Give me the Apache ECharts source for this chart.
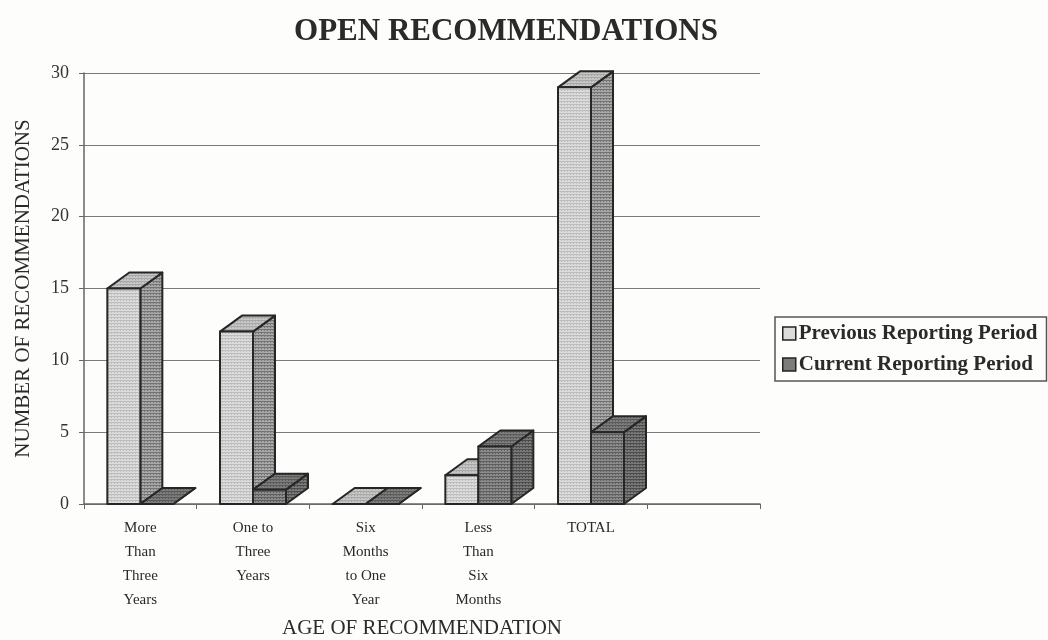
<!DOCTYPE html>
<html>
<head>
<meta charset="utf-8">
<style>
  html, body { margin: 0; padding: 0; background: #fdfdfb; }
  #chart { width: 1048px; height: 640px; }
</style>
<script src="https://cdn.jsdelivr.net/npm/echarts@6/dist/echarts.min.js"></script>
</head>
<body>
<div id="chart"></div>
<script>
const categories = ['More\nThan\nThree\nYears', 'One to\nThree\nYears', 'Six\nMonths\nto One\nYear', 'Less\nThan\nSix\nMonths', 'TOTAL', ''];
const previousPeriod = [15, 12, 0, 2, 29, null];
const currentPeriod = [0, 1, 0, 4, 5, null];

const FONT = '"Liberation Serif", serif';

// halftone look of the scan: two tones laid out as a small repeating dot grid
function dots(base, dot) {
  const c = document.createElement('canvas');
  c.width = 3;
  c.height = 3;
  const g = c.getContext('2d');
  g.fillStyle = base;
  g.fillRect(0, 0, 3, 3);
  g.fillStyle = dot;
  g.fillRect(0, 0, 1, 1);
  g.fillRect(0, 2, 3, 1);
  return { image: c, repeat: 'repeat' };
}

const prevFaces = { front: dots('#dcdcdc', '#bdbdbd'), top: dots('#c6c6c6', '#a8a8a8'), side: dots('#a8a8a8', '#747474') };
const currFaces = { front: dots('#8c8c8c', '#5e5e5e'), top: dots('#7c7c7c', '#5a5a5a'), side: dots('#787878', '#4c4c4c') };

const makeBox = (faces, side) => (params, api) => {
  const v = api.value(1);
  if (v == null || isNaN(v)) return;
  const top = api.coord([api.value(0), v]);
  const base = api.coord([api.value(0), 0]);
  const w = 33, dx = 22, dy = 16;
  const x0 = side < 0 ? top[0] - w : top[0];
  const x1 = x0 + w;
  const yt = top[1], yb = base[1];
  const line = { stroke: '#262626', lineWidth: 2, lineJoin: 'round' };
  const poly = (points, fill) => ({
    type: 'polygon',
    shape: { points },
    style: Object.assign({ fill }, line)
  });
  return {
    type: 'group',
    children: [
      poly([[x1, yb], [x1 + dx, yb - dy], [x1 + dx, yt - dy], [x1, yt]], faces.side),
      poly([[x0, yt], [x0 + dx, yt - dy], [x1 + dx, yt - dy], [x1, yt]], faces.top),
      poly([[x0, yb], [x1, yb], [x1, yt], [x0, yt]], faces.front)
    ]
  };
};

const chart = echarts.init(document.getElementById('chart'), null, { renderer: 'canvas' });
chart.setOption({
  animation: false,
  backgroundColor: '#fdfdfb',
  title: {
    text: 'OPEN RECOMMENDATIONS',
    left: 501,
    top: 11,
    textAlign: 'center',
    textStyle: { fontFamily: FONT, fontSize: 31, fontWeight: 'bold', color: '#2a2a2a' }
  },
  legend: {
    orient: 'vertical',
    left: 775,
    top: 317,
    padding: [6, 9, 6, 7],
    itemGap: 10,
    itemWidth: 13,
    itemHeight: 13,
    borderColor: '#555',
    borderWidth: 1.5,
    data: [
      { name: 'Previous Reporting Period', icon: 'rect', itemStyle: { color: '#dcdcdc', borderColor: '#222', borderWidth: 1.5 } },
      { name: 'Current Reporting Period', icon: 'rect', itemStyle: { color: '#7c7c7c', borderColor: '#222', borderWidth: 1.5 } }
    ],
    textStyle: { fontFamily: FONT, fontSize: 21, fontWeight: 'bold', color: '#2a2a2a', padding: [0, 0, 0, -2] }
  },
  grid: { left: 84, top: 73, width: 676, height: 431, outerBoundsMode: 'none' },
  xAxis: {
    type: 'category',
    data: categories,
    name: 'AGE OF RECOMMENDATION',
    nameLocation: 'middle',
    nameGap: 114,
    nameTextStyle: { fontFamily: FONT, fontSize: 21, color: '#2a2a2a', verticalAlign: 'top', padding: [0, 0, 0, 0] },
    axisLine: { lineStyle: { color: '#666', width: 1.5 } },
    axisTick: { show: true, alignWithLabel: false, length: 5, lineStyle: { color: '#666' } },
    axisLabel: { interval: 0, margin: 12, fontFamily: FONT, fontSize: 15, lineHeight: 24, color: '#2a2a2a', verticalAlign: 'top' }
  },
  yAxis: {
    type: 'value',
    min: 0,
    max: 30,
    interval: 5,
    name: 'NUMBER OF RECOMMENDATIONS',
    nameLocation: 'middle',
    nameGap: 50,
    nameTextStyle: { fontFamily: FONT, fontSize: 21, color: '#2a2a2a' },
    axisLine: { show: true, lineStyle: { color: '#666', width: 1.5 } },
    axisTick: { show: true, length: 5, lineStyle: { color: '#666' } },
    axisLabel: { margin: 15, fontFamily: FONT, fontSize: 18, color: '#333' },
    splitLine: { lineStyle: { color: '#7a7a7a', width: 1.2 } }
  },
  series: [
    {
      name: 'Previous Reporting Period',
      type: 'custom',
      renderItem: makeBox(prevFaces, -1),
      encode: { x: 0, y: 1 },
      itemStyle: { color: '#dcdcdc' },
      data: previousPeriod.map((v, i) => [i, v])
    },
    {
      name: 'Current Reporting Period',
      type: 'custom',
      renderItem: makeBox(currFaces, 1),
      encode: { x: 0, y: 1 },
      itemStyle: { color: '#7c7c7c' },
      data: currentPeriod.map((v, i) => [i, v])
    }
  ]
});
</script>
</body>
</html>
